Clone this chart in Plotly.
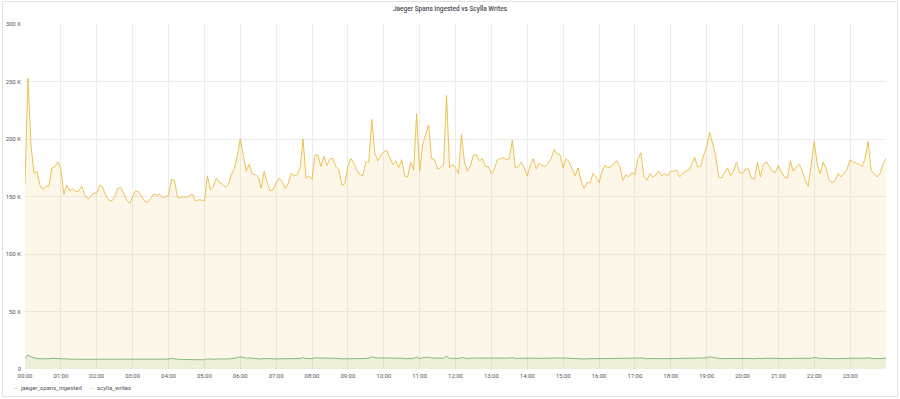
import pandas as pd
import plotly.graph_objects as go

# scylla_writes, thousands, 5-minute samples (one row per hour)
scylla_writes_k = [
    161, 253, 195, 170, 172, 160, 156, 159, 159, 175, 176, 180,
    174, 152, 160, 155, 157, 154, 155, 159, 151, 148, 150, 153,
    153, 160, 158, 151, 147, 146, 150, 157, 158, 152, 147, 144,
    149, 155, 154, 150, 146, 145, 148, 152, 151, 152, 149, 150,
    151, 165, 164, 149, 149, 150, 149, 151, 152, 146, 147, 147,
    146, 168, 156, 159, 166, 162, 161, 158, 160, 169, 174, 185,
    200, 186, 172, 178, 170, 169, 167, 157, 172, 162, 155, 156,
    162, 166, 163, 157, 161, 170, 168, 169, 175, 200, 166, 168,
    165, 186, 186, 176, 185, 177, 183, 183, 176, 173, 160, 161,
    177, 183, 179, 173, 169, 168, 180, 180, 217, 188, 181, 186,
    189, 190, 184, 178, 181, 175, 182, 168, 167, 180, 173, 222,
    172, 195, 204, 212, 183, 182, 174, 175, 178, 238, 175, 178,
    175, 170, 204, 180, 172, 177, 186, 186, 181, 183, 176, 176,
    170, 174, 182, 183, 184, 182, 183, 199, 175, 176, 180, 175,
    168, 177, 183, 174, 179, 177, 176, 179, 183, 191, 187, 186,
    175, 183, 180, 174, 168, 175, 164, 157, 162, 162, 170, 167,
    162, 172, 177, 175, 176, 179, 181, 176, 164, 169, 167, 171,
    169, 183, 188, 168, 164, 170, 167, 169, 172, 168, 170, 168,
    172, 172, 173, 167, 170, 172, 173, 178, 184, 176, 176, 186,
    193, 206, 195, 186, 167, 166, 171, 175, 168, 172, 180, 171,
    170, 174, 174, 166, 165, 180, 167, 178, 180, 176, 172, 171,
    177, 171, 167, 166, 181, 172, 176, 178, 172, 164, 159, 178,
    198, 178, 170, 180, 174, 164, 162, 164, 170, 167, 170, 174,
    182, 180, 179, 178, 176, 183, 198, 173, 170, 167, 170, 178,
    183,
]

# jaeger_spans_ingested, thousands, 5-minute samples
jaeger_spans_k = [
    9.0, 12.3, 10.6, 9.6, 9.1, 8.9, 8.7, 8.8, 8.9, 9.3, 9.1, 9.4,
    8.9, 8.5, 8.6, 8.6, 8.5, 8.5, 8.4, 8.5, 8.3, 8.2, 8.3, 8.4,
    8.5, 8.5, 8.4, 8.2, 8.3, 8.3, 8.2, 8.4, 8.4, 8.2, 8.1, 8.0,
    8.1, 8.2, 8.3, 8.2, 8.1, 8.0, 8.1, 8.2, 8.2, 8.3, 8.2, 8.3,
    8.6, 9.3, 8.9, 8.3, 8.2, 8.3, 8.2, 8.3, 8.2, 8.1, 8.1, 8.0,
    8.0, 8.9, 8.4, 8.5, 8.7, 8.6, 8.7, 8.6, 8.8, 9.0, 9.3, 9.8,
    10.6, 10.0, 9.4, 9.6, 9.3, 9.2, 9.1, 8.7, 9.1, 8.9, 8.6, 8.6,
    8.8, 8.9, 8.8, 8.7, 8.8, 9.1, 9.0, 9.1, 9.2, 10.0, 9.0, 9.1,
    9.0, 9.7, 9.7, 9.3, 9.6, 9.3, 9.5, 9.5, 9.3, 9.2, 8.8, 8.9,
    9.3, 9.5, 9.3, 9.1, 9.0, 9.0, 9.4, 9.4, 10.5, 9.8, 9.5, 9.7,
    9.8, 9.9, 9.6, 9.4, 9.5, 9.3, 9.5, 9.0, 9.0, 9.4, 9.2, 10.4,
    9.1, 9.8, 10.0, 10.3, 9.6, 9.5, 9.2, 9.2, 9.3, 11.0, 9.2, 9.3,
    9.2, 9.1, 10.0, 9.4, 9.1, 9.3, 9.6, 9.6, 9.5, 9.5, 9.3, 9.3,
    9.1, 9.2, 9.4, 9.5, 9.5, 9.4, 9.5, 9.9, 9.2, 9.3, 9.4, 9.3,
    9.0, 9.3, 9.5, 9.2, 9.4, 9.3, 9.3, 9.4, 9.5, 9.8, 9.7, 9.6,
    9.3, 9.5, 9.4, 9.2, 9.0, 9.2, 8.9, 8.7, 8.9, 8.9, 9.1, 9.0,
    8.9, 9.1, 9.3, 9.2, 9.3, 9.3, 9.4, 9.3, 8.9, 9.0, 9.0, 9.1,
    9.1, 9.5, 9.7, 9.1, 8.9, 9.1, 9.0, 9.1, 9.1, 9.0, 9.1, 9.0,
    9.1, 9.1, 9.2, 9.0, 9.1, 9.2, 9.2, 9.3, 9.5, 9.3, 9.3, 9.6,
    9.9, 10.6, 10.1, 9.7, 9.0, 9.0, 9.1, 9.2, 9.0, 9.1, 9.3, 9.1,
    9.1, 9.2, 9.2, 9.0, 8.9, 9.4, 9.0, 9.3, 9.4, 9.3, 9.2, 9.1,
    9.3, 9.1, 9.0, 9.0, 9.4, 9.2, 9.3, 9.3, 9.2, 8.9, 8.8, 9.3,
    10.2, 9.6, 9.2, 9.4, 9.2, 8.9, 8.9, 8.9, 9.1, 9.0, 9.1, 9.2,
    9.4, 9.3, 9.3, 9.3, 9.2, 9.4, 9.7, 9.2, 9.1, 9.0, 9.1, 9.3,
    9.4,
]

times = pd.date_range("2020-01-01 00:00", periods=len(scylla_writes_k), freq="5min")

hour_ticks = pd.date_range("2020-01-01 00:00", periods=24, freq="1h")
hour_labels = [f"{h:02d}:00" for h in range(24)]

y_tickvals = [0, 50, 100, 150, 200, 250, 300]
y_ticktext = ["0", "50 K", "100 K", "150 K", "200 K", "250 K", "300 K"]

title_text = "Jaeger Spans Ingested vs Scylla Writes"
series_names = ["jaeger_spans_ingested", "scylla_writes"]
green = "#7EB26D"
yellow = "#EAB839"

fig = go.Figure()
fig.add_trace(go.Scatter(
    x=times, y=scylla_writes_k, name=series_names[1], mode="lines",
    line=dict(color="rgba(234,184,57,0.85)", width=1), fill="tozeroy",
    fillcolor="rgba(234,184,57,0.11)", showlegend=False,
))
fig.add_trace(go.Scatter(
    x=times, y=jaeger_spans_k, name=series_names[0], mode="lines",
    line=dict(color="rgba(126,178,109,0.9)", width=1), fill="tozeroy",
    fillcolor="rgba(126,178,109,0.12)", showlegend=False,
))

font_family = "Roboto, 'Helvetica Neue', Arial, sans-serif"
tick_font = dict(family=font_family, size=6, color="#52545c")

fig.update_layout(
    width=900, height=399,
    margin=dict(l=25, r=14, t=24, b=30, autoexpand=False),
    paper_bgcolor="white", plot_bgcolor="white",
    title=dict(text=title_text, x=0.5, xanchor="center", y=1 - 9 / 399,
               yanchor="middle", yref="container",
               font=dict(family=font_family, size=6.5, color="#464c54", weight=500)),
    xaxis=dict(type="date", range=[times[0], times[-1]],
               tickvals=hour_ticks, ticktext=hour_labels, automargin=False,
               showgrid=True, gridcolor="#ececec", gridwidth=1,
               zeroline=False, showline=False, ticks="",
               ticklabelstandoff=2, tickfont=tick_font),
    yaxis=dict(range=[0, 300], tickvals=y_tickvals, ticktext=y_ticktext,
               automargin=False,
               showgrid=True, gridcolor="#ececec", gridwidth=1,
               zeroline=False, showline=False, ticks="",
               ticklabelstandoff=3, tickfont=tick_font),
    hovermode=False,
)

# panel border
fig.add_shape(type="rect", xref="paper", yref="paper",
              x0=(2.5 - 25) / 861, x1=(897.5 - 25) / 861,
              y0=(369 - 396.5) / 345, y1=(369 - 1.5) / 345,
              line=dict(color="#e3e3e3", width=1), layer="below")

# legend rendered as text entries (short dash + name)
legend_y = (369 - 387) / 345
legend_items = [(series_names[0], green, (12 - 25) / 861),
                (series_names[1], yellow, (88 - 25) / 861)]
for name, color, lx in legend_items:
    fig.add_annotation(
        xref="paper", yref="paper", x=lx, y=legend_y, xanchor="left", yanchor="middle",
        showarrow=False,
        text=f'<span style="color:{color}">–</span>  {name}',
        font=dict(family=font_family, size=6, color="#52545c"),
    )

fig.write_html("out.html", config={"displayModeBar": False},
               post_script="document.body.style.margin='0px';")
